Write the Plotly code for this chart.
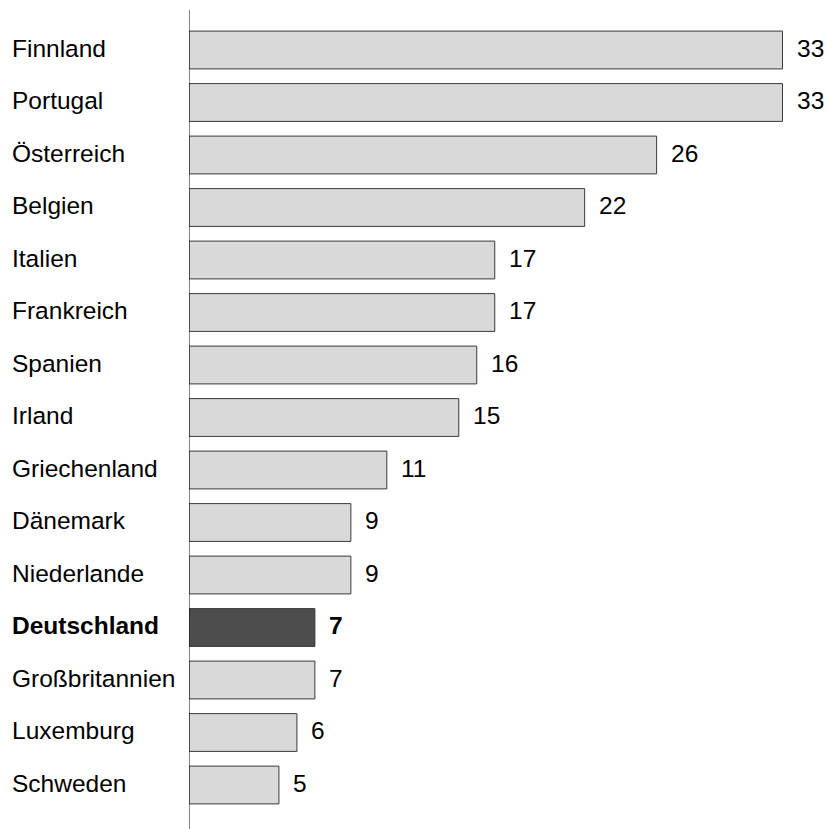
import plotly.graph_objects as go

countries = ["Finnland", "Portugal", "Österreich", "Belgien", "Italien", "Frankreich",
             "Spanien", "Irland", "Griechenland", "Dänemark", "Niederlande",
             "Deutschland", "Großbritannien", "Luxemburg", "Schweden"]
values = [33, 33, 26, 22, 17, 17, 16, 15, 11, 9, 9, 7, 7, 6, 5]
highlight = "Deutschland"

W, H = 828, 829
ML, MT, MR, MB = 189, 10, 0, 0
plot_w = W - ML - MR
px_per_unit = 17.985
x_max = plot_w / px_per_unit

fills = ["#4d4d4d" if c == highlight else "#d9d9d9" for c in countries]
idx = list(range(len(countries)))

fig = go.Figure(go.Bar(
    x=values, y=idx, orientation="h", width=0.72,
    marker=dict(color=fills, line=dict(color="#3a3a3a", width=1)),
    hoverinfo="skip",
))

font = "Liberation Sans, Arial, Helvetica, sans-serif"
annotations = []
for i, (c, v) in enumerate(zip(countries, values)):
    bold = c == highlight
    label = f"<b>{c}</b>" if bold else c
    val = f"<b>{v}</b>" if bold else str(v)
    annotations.append(dict(
        x=(10 - ML) / plot_w, xref="paper", y=i, yref="y",
        text=label, showarrow=False, xanchor="left", yanchor="middle",
        font=dict(family=font, size=24.5, color="#000"), yshift=2,
    ))
    annotations.append(dict(
        x=v, xref="x", y=i, yref="y", text=val, showarrow=False,
        xanchor="left", yanchor="middle", xshift=12, yshift=2,
        font=dict(family=font, size=24.5, color="#000"),
    ))

fig.update_layout(
    width=W, height=H, margin=dict(l=ML, r=MR, t=MT, b=MB),
    plot_bgcolor="white", paper_bgcolor="white", showlegend=False,
    xaxis=dict(range=[0, x_max], visible=False, fixedrange=True),
    yaxis=dict(range=[14 + 44 / 52.5, -40 / 52.5], showticklabels=False,
               showgrid=False, zeroline=False, showline=False, ticks=""),
    annotations=annotations,
    shapes=[dict(type="line", xref="x", yref="paper", x0=0, x1=0, y0=0, y1=1,
                 line=dict(color="#111", width=1))],
)

fig.write_html("out.html")
